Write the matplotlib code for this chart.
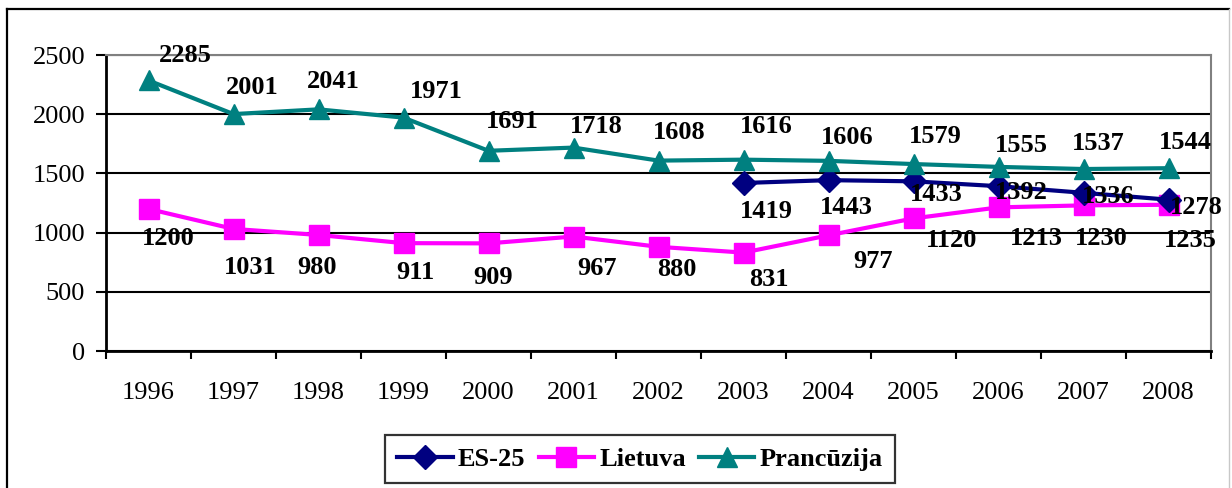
import matplotlib
matplotlib.use("Agg")
import matplotlib.pyplot as plt
from matplotlib.lines import Line2D

years = ["1996", "1997", "1998", "1999", "2000", "2001", "2002", "2003", "2004", "2005", "2006", "2007", "2008"]
es25 = [None, None, None, None, None, None, None, 1419, 1443, 1433, 1392, 1336, 1278]
lietuva = [1200, 1031, 980, 911, 909, 967, 880, 831, 977, 1120, 1213, 1230, 1235]
prancuzija = [2285, 2001, 2041, 1971, 1691, 1718, 1608, 1616, 1606, 1579, 1555, 1537, 1544]
yticks = [0, 500, 1000, 1500, 2000, 2500]

# label offsets (pixels, screen y downward) as placed in the reference
off_fr = [(37, -25), (19, -27), (15, -28), (33, -26), (24, -29), (23, -21), (21, -28),
          (23, -33), (19, -23), (22, -28), (23, -21), (15, -26), (17, -26)]
off_lt = [(20, 30), (17, 39), (-1, 33), (12, 29), (5, 34), (23, 32), (18, 23),
          (25, 27), (45, 26), (38, 22), (38, 31), (18, 33), (22, 36)]
off_es = [None] * 7 + [(23, 29), (18, 27), (23, 13), (23, 6), (25, 4), (28, 8)]

plt.rcParams['font.family'] = ['Liberation Serif', 'DejaVu Serif']

W, H = 1232, 488
fig = plt.figure(figsize=(W / 100, H / 100), dpi=100)

# outer chart border
fig.add_artist(Line2D([7 / W, 7 / W], [0, 1 - 9 / H], color='black', lw=1.6))
fig.add_artist(Line2D([7 / W, 1229 / W], [1 - 9 / H, 1 - 9 / H], color='black', lw=1.6))
fig.add_artist(Line2D([1229 / W, 1229 / W], [0, 1 - 9 / H], color='#c8c8c8', lw=1.0))

L, R, T, B = 106, 1211, 55, 351
ax = fig.add_axes([L / W, 1 - B / H, (R - L) / W, (B - T) / H])

x = list(range(len(years)))
navy, magenta, teal = '#000080', '#FF00FF', '#008080'

ex = [i for i, v in zip(x, es25) if v is not None]
ev = [v for v in es25 if v is not None]
ax.plot(ex, ev, color=navy, lw=3, marker='D', ms=12, label='ES-25', zorder=4)
ax.plot(x, lietuva, color=magenta, lw=3, marker='s', ms=14, label='Lietuva', zorder=3)
ax.plot(x, prancuzija, color=teal, lw=3, marker='^', ms=15, label='Prancūzija', zorder=5)

lab = dict(fontsize=19, fontweight='bold', ha='center', va='center',
           textcoords='offset pixels', zorder=6)
for i, v, o in zip(x, prancuzija, off_fr):
    ax.annotate(str(v), (i, v), xytext=(o[0], -o[1]), **lab)
for i, v, o in zip(x, lietuva, off_lt):
    ax.annotate(str(v), (i, v), xytext=(o[0], -o[1]), **lab)
for i, v, o in zip(x, es25, off_es):
    if v is not None:
        ax.annotate(str(v), (i, v), xytext=(o[0], -o[1]), **lab)

ax.set_xlim(-0.5, len(years) - 0.5)
ax.set_ylim(0, 2500)
ax.set_yticks(yticks)
ax.set_yticklabels([str(t) for t in yticks], fontsize=19)
ax.yaxis.grid(True, color='black', lw=1.5)
ax.set_axisbelow(True)

ax.set_xticks(x)
ax.set_xticklabels(years, fontsize=19)
ax.set_xticks([i - 0.5 for i in range(len(years) + 1)], minor=True)
ax.tick_params(axis='x', which='major', length=0, pad=22)
ax.tick_params(axis='x', which='minor', length=6, width=1.5, direction='out')
ax.tick_params(axis='y', length=7, width=1.5, direction='out', pad=8)

for s in ['left', 'bottom']:
    ax.spines[s].set_color('black')
    ax.spines[s].set_linewidth(2)
for s in ['top', 'right']:
    ax.spines[s].set_color('#808080')
    ax.spines[s].set_linewidth(1.5)

leg = fig.legend(loc='center', bbox_to_anchor=(640 / W, 1 - 459 / H), ncol=3,
                 prop={'size': 19, 'weight': 'bold'}, frameon=True, fancybox=False,
                 edgecolor='black', handlelength=2.1, handletextpad=0.2,
                 columnspacing=0.5, borderpad=0.45, borderaxespad=0)
leg.get_frame().set_linewidth(1.6)

fig.savefig('out.png', dpi=100)
